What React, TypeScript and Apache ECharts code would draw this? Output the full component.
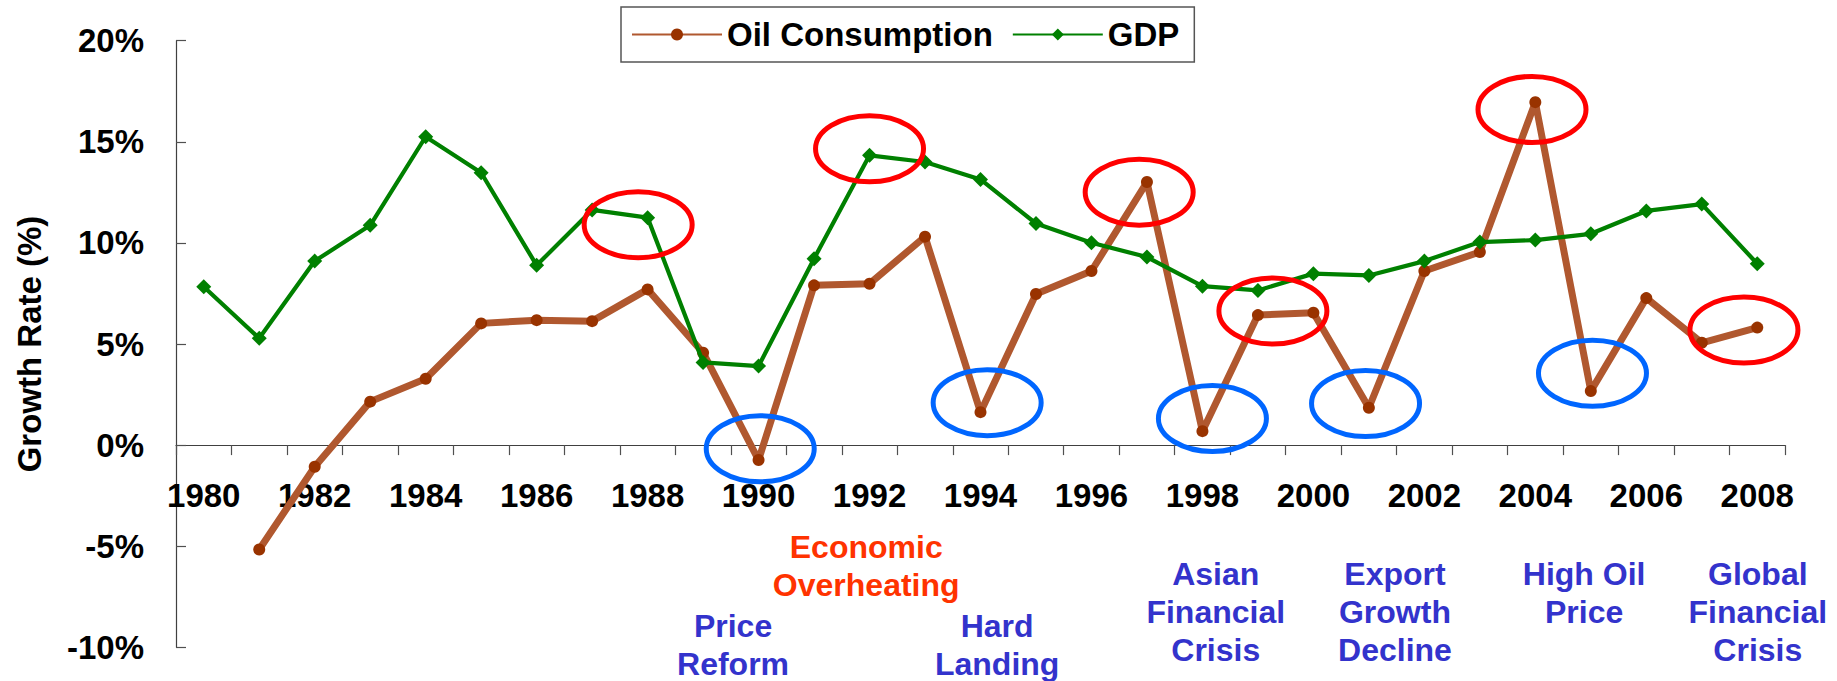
import React, { useEffect, useRef } from 'react';
import * as echarts from 'echarts';

const years = ['1980','1981','1982','1983','1984','1985','1986','1987','1988','1989','1990','1991','1992','1993','1994','1995','1996','1997','1998','1999','2000','2001','2002','2003','2004','2005','2006','2007','2008'];

const oilGrowth = [null, -5.16, -1.07, 2.15, 3.28, 6.02, 6.18, 6.13, 7.70, 4.57, -0.74, 7.90, 7.98, 10.31, 1.63, 7.47, 8.61, 13.01, 0.69, 6.43, 6.55, 1.85, 8.61, 9.55, 16.96, 2.67, 7.27, 5.06, 5.81];

const gdpGrowth = [7.83, 5.28, 9.10, 10.87, 15.25, 13.47, 8.89, 11.63, 11.25, 4.09, 3.91, 9.22, 14.33, 14.0, 13.14, 10.96, 10.01, 9.30, 7.86, 7.65, 8.48, 8.39, 9.10, 10.04, 10.14, 10.45, 11.58, 11.92, 8.97];

const yMin = -10;
const yMax = 20;
const yStep = 5;

// highlighted episodes (ellipses), in data coordinates: fractional year, value
const circleYears = [1987.83, 1992.0, 1996.86, 1999.27, 2003.94, 2007.76, 1990.03, 1994.12, 1998.18, 2000.94, 2005.03];
const circleValues = [10.9, 14.66, 12.51, 6.63, 16.6, 5.69, -0.18, 2.1, 1.32, 2.06, 3.55];
const circleKinds = ['high', 'high', 'high', 'high', 'high', 'high', 'low', 'low', 'low', 'low', 'low'];

// event labels, anchored at top of text block in data coordinates
const eventLabels = ['Economic\nOverheating', 'Price\nReform', 'Hard\nLanding', 'Asian\nFinancial\nCrisis', 'Export\nGrowth\nDecline', 'High Oil\nPrice', 'Global\nFinancial\nCrisis'];
const eventYears = [1991.94, 1989.54, 1994.30, 1998.24, 2001.47, 2004.88, 2008.01];
const eventValues = [-4.085, -8.01, -8.01, -5.455, -5.455, -5.455, -5.455];
const eventKinds = ['high', 'low', 'low', 'low', 'low', 'low', 'low'];

const FONT = '"Liberation Sans", Arial, sans-serif';

const W = 1837;
const H = 681;
const GRID_TOP = 40.7;
const GRID_BOTTOM = 33.7;
const GRID_H = H - GRID_TOP - GRID_BOTTOM;
// x axis sits on the zero line
const X_AXIS_OFFSET = -GRID_H * (0 - yMin) / (yMax - yMin);

function fracCoord(api: any, yr: number, v: number) {
  const a = api.coord([0, v]);
  const b = api.coord([1, v]);
  return [a[0] + (yr - 1980) * (b[0] - a[0]), a[1]];
}

export default function App() {
  const ref = useRef<HTMLDivElement>(null);
  useEffect(() => {
    if (!ref.current) return;
    const chart = echarts.init(ref.current, undefined, { renderer: 'svg' });
    const option: any = {
      animation: false,
      backgroundColor: '#ffffff',
      textStyle: { fontFamily: FONT },
      grid: { left: 176, right: 52, top: GRID_TOP, bottom: GRID_BOTTOM, containLabel: false, outerBoundsMode: 'none' },
      legend: {
        data: ['Oil Consumption', 'GDP'],
        left: 621,
        top: 7,
        itemWidth: 90,
        itemHeight: 15,
        itemGap: 19,
        padding: [10, 15, 10, 10],
        borderColor: '#555555',
        borderWidth: 1.5,
        selectedMode: false,
        textStyle: { fontSize: 33, fontWeight: 'bold', color: '#000', fontFamily: FONT, lineHeight: 35 },
      },
      xAxis: {
        type: 'category',
        data: years,
        boundaryGap: true,
        position: 'bottom',
        offset: X_AXIS_OFFSET,
        axisLine: { onZero: false, lineStyle: { color: '#404040', width: 1.2 } },
        axisTick: { show: true, interval: 0, length: 10, lineStyle: { color: '#505050', width: 1.2 } },
        axisLabel: { interval: 1, margin: 34, fontSize: 33, fontWeight: 'bold', color: '#000', fontFamily: FONT, hideOverlap: false },
        splitLine: { show: false },
      },
      yAxis: {
        type: 'value',
        min: yMin,
        max: yMax,
        interval: yStep,
        name: 'Growth Rate (%)',
        nameLocation: 'middle',
        nameRotate: 90,
        nameGap: 130,
        nameTextStyle: { fontSize: 33, fontWeight: 'bold', color: '#000', fontFamily: FONT },
        axisLine: { show: true, onZero: false, lineStyle: { color: '#404040', width: 1.2 } },
        axisTick: { show: true, inside: true, length: 10, lineStyle: { color: '#505050', width: 1.2 } },
        axisLabel: { formatter: '{value}%', margin: 32, fontSize: 33, fontWeight: 'bold', color: '#000', fontFamily: FONT },
        splitLine: { show: false },
      },
      series: [
        {
          name: 'Oil Consumption',
          type: 'line',
          data: oilGrowth,
          symbol: 'circle',
          symbolSize: 12,
          showAllSymbol: true,
          connectNulls: false,
          itemStyle: { color: '#993300' },
          lineStyle: { color: '#B0582F', width: 7 },
          emphasis: { disabled: true },
          z: 2,
        },
        {
          name: 'GDP',
          type: 'line',
          data: gdpGrowth,
          symbol: 'diamond',
          symbolSize: 15,
          showAllSymbol: true,
          itemStyle: { color: '#008000' },
          lineStyle: { color: '#008000', width: 4.2 },
          emphasis: { disabled: true },
          z: 3,
        },
        {
          name: 'episodes',
          type: 'custom',
          silent: true,
          z: 5,
          clip: false,
          data: circleYears.map((y, i) => [y - 1980, circleValues[i]]),
          renderItem: (params: any, api: any) => {
            const i = params.dataIndex;
            const p = fracCoord(api, circleYears[i], circleValues[i]);
            return {
              type: 'ellipse',
              shape: { cx: p[0], cy: p[1], rx: 54, ry: 33 },
              style: { fill: 'none', stroke: circleKinds[i] === 'high' ? '#FF0000' : '#0066FF', lineWidth: 5 },
            };
          },
        },
        {
          name: 'events',
          type: 'custom',
          silent: true,
          z: 5,
          clip: false,
          data: eventYears.map((y, i) => [y - 1980, eventValues[i]]),
          renderItem: (params: any, api: any) => {
            const i = params.dataIndex;
            const p = fracCoord(api, eventYears[i], eventValues[i]);
            return {
              type: 'text',
              x: p[0],
              y: p[1],
              style: {
                text: eventLabels[i],
                fill: eventKinds[i] === 'high' ? '#FF3300' : '#3333CC',
                fontSize: 32,
                fontWeight: 'bold',
                fontFamily: FONT,
                align: 'center',
                verticalAlign: 'top',
                lineHeight: 38,
              },
            };
          },
        },
      ],
    };
    chart.setOption(option);
    return () => chart.dispose();
  }, []);
  return <div ref={ref} style={{ position: 'fixed', left: 0, top: 0, width: W, height: H, background: '#fff' }} />;
}
